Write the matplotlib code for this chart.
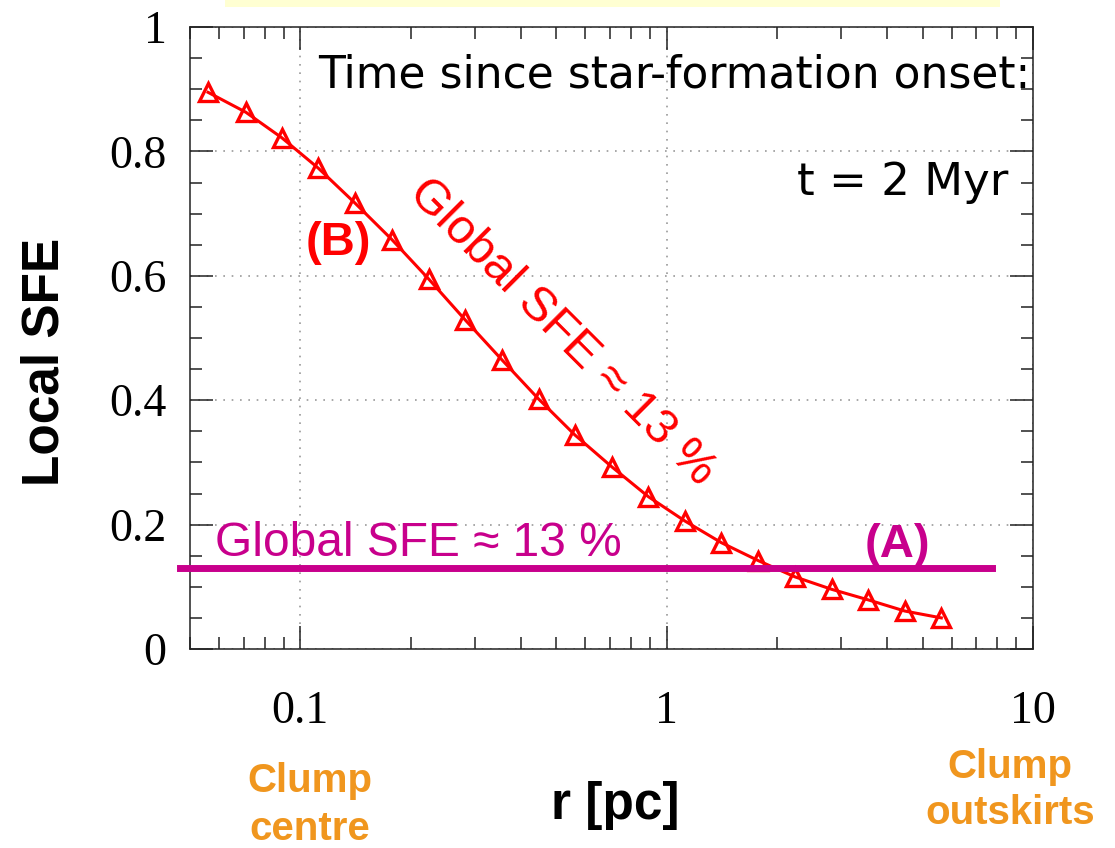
import matplotlib
matplotlib.use('Agg')
import matplotlib.pyplot as plt
from matplotlib.patches import Rectangle
from matplotlib.ticker import MultipleLocator, LogLocator, NullFormatter, FixedLocator, FixedFormatter

# radius [pc] and local SFE
r_pc = [0.056, 0.071, 0.089, 0.112, 0.141, 0.178, 0.224, 0.282, 0.355, 0.447, 0.562,
        0.708, 0.891, 1.12, 1.41, 1.78, 2.24, 2.82, 3.55, 4.47, 5.62]
local_sfe = [0.895, 0.863, 0.822, 0.773, 0.717, 0.658, 0.595, 0.529, 0.465, 0.402, 0.344,
             0.293, 0.245, 0.206, 0.171, 0.142, 0.116, 0.096, 0.079, 0.061, 0.050]
global_sfe = 0.13

x_ticks = [0.1, 1, 10]
x_ticklabels = ['0.1', '1', '10']
y_ticks = [0, 0.2, 0.4, 0.6, 0.8, 1]
y_ticklabels = ['0', '0.2', '0.4', '0.6', '0.8', '1']

RED = '#FF0000'
MAGENTA = '#C8008C'
ORANGE = '#F0961E'
W, H = 1115, 848

fig = plt.figure(figsize=(W / 100, H / 100), dpi=100)
ax = fig.add_axes([190 / W, 1 - 649 / H, (1033 - 190) / W, (649 - 27) / H])

ax.plot(r_pc, local_sfe, color=RED, lw=2.2, marker='^', ms=13, mfc='none',
        mec=RED, mew=2.4, zorder=3)
ax.axhline(global_sfe, xmin=-0.012, xmax=0.951, color=MAGENTA, lw=5, clip_on=False, zorder=4)

ax.set_xscale('log')
ax.set_xlim(0.05, 10)
ax.set_ylim(0, 1)

ax.xaxis.set_major_locator(FixedLocator(x_ticks))
ax.xaxis.set_major_formatter(FixedFormatter(x_ticklabels))
ax.xaxis.set_minor_locator(LogLocator(base=10, subs=range(2, 10)))
ax.xaxis.set_minor_formatter(NullFormatter())
ax.yaxis.set_major_locator(FixedLocator(y_ticks))
ax.yaxis.set_major_formatter(FixedFormatter(y_ticklabels))
ax.yaxis.set_minor_locator(MultipleLocator(0.05))

ax.tick_params(which='both', direction='in', top=True, right=True, width=1.1, color='#222222')
ax.tick_params(which='major', length=16.5)
ax.tick_params(which='minor', length=8.5)
ax.tick_params(axis='x', which='major', pad=30)
ax.tick_params(axis='y', which='major', pad=17)
for lab in ax.get_xticklabels() + ax.get_yticklabels():
    lab.set_fontfamily('Liberation Serif')
    lab.set_fontsize(33)
for s in ax.spines.values():
    s.set_linewidth(1.1)
    s.set_color('#222222')

ax.grid(True, which='major', color='#999999', linestyle=(0, (1, 4)), lw=1.2)

# annotations
fig.text(1030 / W, 1 - 75 / H, 'Time since star-formation onset:', ha='right', va='center',
         family='DejaVu Sans', fontsize=31.7)
fig.text(1008 / W, 1 - 183 / H, 't = 2 Myr', ha='right', va='center',
         family='DejaVu Sans', fontsize=32.5)

sans = ['Liberation Sans', 'DejaVu Sans']
fig.text(338 / W, 1 - 243 / H, '(B)', ha='center', va='center', family=sans,
         fontsize=34, fontweight='bold', color=RED)
fig.text(562 / W, 1 - 332 / H, 'Global SFE ≈ 13 %', ha='center', va='center', family=sans,
         fontsize=35, color=RED, rotation=-45, rotation_mode='anchor')
fig.text(215 / W, 1 - 543 / H, 'Global SFE ≈ 13 %', ha='left', va='center', family=sans,
         fontsize=34.5, color=MAGENTA)
fig.text(897 / W, 1 - 545 / H, '(A)', ha='center', va='center', family=sans,
         fontsize=34, fontweight='bold', color=MAGENTA)

fig.text(45 / W, 1 - 362 / H, 'Local SFE', ha='center', va='center', family=sans,
         fontsize=37, fontweight='bold', rotation=90)
fig.text(615 / W, 1 - 805 / H, 'r [pc]', ha='center', va='center', family=sans,
         fontsize=37, fontweight='bold')
fig.text(310 / W, 1 - 805 / H, 'Clump\ncentre', ha='center', va='center', family=sans,
         fontsize=29, fontweight='bold', color=ORANGE, linespacing=1.3)
fig.text(1010 / W, 1 - 790 / H, 'Clump\noutskirts', ha='center', va='center', family=sans,
         fontsize=29, fontweight='bold', color=ORANGE, linespacing=1.3)

fig.patches.append(Rectangle((225 / W, 1 - 7 / H), 775 / W, 7 / H, transform=fig.transFigure,
                             facecolor='#FFFFD2', edgecolor='none'))

fig.savefig('out.png', dpi=100)
